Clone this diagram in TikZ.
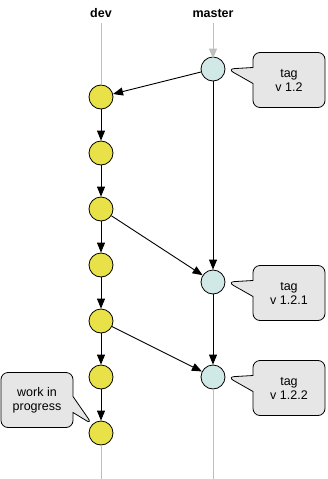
\documentclass[tikz,border=0pt]{standalone}
\usepackage{fontspec}
\setmainfont{Liberation Sans}
\usetikzlibrary{shapes.callouts,arrows.meta}
\definecolor{devy}{RGB}{232,226,72}
\definecolor{mastc}{RGB}{208,232,230}
\definecolor{callg}{RGB}{230,230,230}
\begin{document}
\begin{tikzpicture}[x=1pt,y=-1pt,
  commit/.style={circle,draw,line width=0.8pt,minimum size=24pt,inner sep=0pt},
  devc/.style={commit,fill=devy},
  masc/.style={commit,fill=mastc},
  flow/.style={-{Triangle[length=10pt,width=8pt]},line width=0.9pt},
  rail/.style={draw=black!25,line width=1pt},
  tagbox/.style={rectangle callout,draw,fill=callg,line width=0.8pt,rounded corners=7pt,
    minimum width=72pt,minimum height=55pt,align=center,font=\fontsize{12.5}{14}\selectfont,
    callout pointer width=16pt},
  branch/.style={font=\bfseries\fontsize{12.5}{14}\selectfont}]
\useasboundingbox (0,0) rectangle (327,479);
\node[branch] (ldev) at (101,13) {dev};
\node[branch] (lmas) at (213,13) {master};
\coordinate (devbot) at (101,479);
\coordinate (masbot) at (213,479);
\node[devc] (d1) at (101,97) {};
\node[devc] (d2) at (101,153) {};
\node[devc] (d3) at (101,209) {};
\node[devc] (d4) at (101,265) {};
\node[devc] (d5) at (101,321) {};
\node[devc] (d6) at (101,377) {};
\node[devc] (d7) at (101,433) {};
\node[masc] (m1) at (213,69) {};
\node[masc] (m2) at (213,282) {};
\node[masc] (m3) at (213,377) {};
\draw[rail] (ldev.south) ++(0,2) -- (d1.north);
\draw[rail,-{Triangle[length=10pt,width=8pt]}] (lmas.south) ++(0,2) -- ([yshift=-2pt]m1.north);
\draw[rail] (d7.south) -- (devbot);
\draw[rail] (m3.south) -- (masbot);
\draw[flow] (m1) -- (d1);
\draw[flow] (d1) -- (d2);
\draw[flow] (d2) -- (d3);
\draw[flow] (d3) -- (d4);
\draw[flow] (d4) -- (d5);
\draw[flow] (d5) -- (d6);
\draw[flow] (d6) -- (d7);
\draw[flow] (d3) -- (m2);
\draw[flow] (d5) -- (m3);
\draw[flow] (m1) -- (m2);
\draw[flow] (m2) -- (m3);
\node[tagbox,callout absolute pointer={([xshift=2pt]m1.east)}] (t1) at (289,80) {tag\\v 1.2};
\node[tagbox,callout absolute pointer={([xshift=2pt]m2.east)}] (t2) at (289,293) {tag\\v 1.2.1};
\node[tagbox,callout absolute pointer={([xshift=2pt]m3.east)}] (t3) at (289,388) {tag\\v 1.2.2};
\node[tagbox,callout absolute pointer={(d7.north west)}] (wip) at (37,400) {work in\\progress};
\end{tikzpicture}
\end{document}
